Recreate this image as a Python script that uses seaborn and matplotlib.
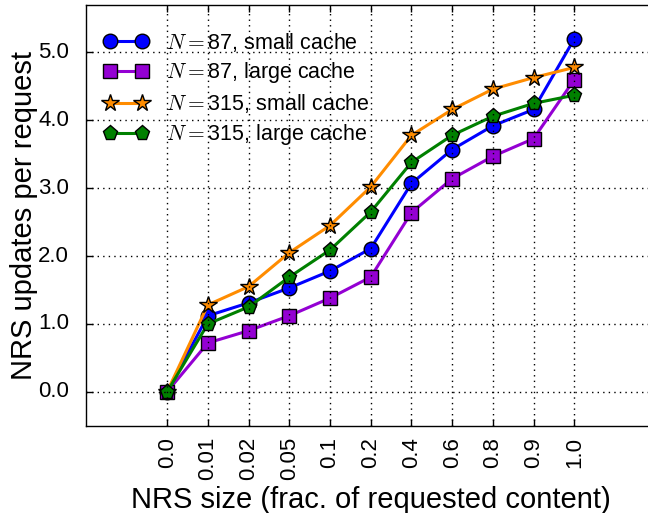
import matplotlib
matplotlib.use("Agg")
import matplotlib.pyplot as plt
import seaborn as sns
import pandas as pd

x_labels = ["0.0", "0.01", "0.02", "0.05", "0.1", "0.2", "0.4", "0.6", "0.8", "0.9", "1.0"]
n87_small = [0.0, 1.12, 1.31, 1.53, 1.78, 2.11, 3.07, 3.57, 3.92, 4.16, 5.20]
n87_large = [0.0, 0.72, 0.90, 1.12, 1.38, 1.69, 2.64, 3.14, 3.47, 3.73, 4.60]
n315_small = [0.0, 1.28, 1.55, 2.05, 2.45, 3.02, 3.78, 4.16, 4.46, 4.63, 4.78]
n315_large = [0.0, 1.00, 1.25, 1.69, 2.09, 2.65, 3.38, 3.78, 4.06, 4.25, 4.37]
series_labels = [r"$N=$87, small cache", r"$N=$87, large cache",
                 r"$N=$315, small cache", r"$N=$315, large cache"]

plt.style.use("classic")
plt.rcParams["font.family"] = ["Liberation Sans", "DejaVu Sans"]
plt.rcParams["mathtext.fontset"] = "cm"
plt.rcParams["text.color"] = "black"
plt.rcParams["axes.labelcolor"] = "black"
plt.rcParams["xtick.color"] = "black"
plt.rcParams["ytick.color"] = "black"

fig = plt.figure(figsize=(6.48, 5.13), dpi=100, facecolor="white")
ax = fig.add_axes([85.7 / 648, (513 - 425.7) / 513, 570.0 / 648, 420.7 / 513])
ax.set_facecolor("white")

styles = [
    ("#0000FF", "o", 10.5),
    ("#9400D3", "s", 10),
    ("#FF8C00", "*", 13),
    ("#008000", "p", 11),
]
xs = list(range(len(x_labels)))
for vals, lab, (c, m, ms) in zip([n87_small, n87_large, n315_small, n315_large], series_labels, styles):
    df = pd.DataFrame({"x": xs, "y": vals})
    sns.lineplot(data=df, x="x", y="y", ax=ax, color=c, marker=m, markersize=ms,
                 markeredgecolor="black", markeredgewidth=1.0, linewidth=2.2,
                 label=lab, legend=False)

ax.set_xlim(-2, 12)
ax.set_ylim(-0.5, 5.7)
ax.set_xticks(xs)
ax.set_xticklabels(x_labels, rotation=90, fontsize=16)
ax.set_yticks([0, 1, 2, 3, 4, 5])
ax.set_yticklabels(["0.0", "1.0", "2.0", "3.0", "4.0", "5.0"], fontsize=16)
ax.grid(True, color="black", linestyle=":", linewidth=1.0)
ax.tick_params(direction="in", length=5, width=1, top=True, right=True)
ax.tick_params(axis="y", pad=12)
ax.tick_params(axis="x", pad=8)
ax.set_xlabel("NRS size (frac. of requested content)", fontsize=21, labelpad=4)
ax.set_ylabel("NRS updates per request", fontsize=21, labelpad=0)
for s in ax.spines.values():
    s.set_color("black")
    s.set_linewidth(1.0)

handles, labels = ax.get_legend_handles_labels()
ax.legend(handles, labels, loc="upper left", numpoints=2, frameon=False,
          fontsize=15.5, handlelength=2.1, handletextpad=0.8,
          borderaxespad=0.3, labelspacing=0.32,
          bbox_to_anchor=(0.005, 0.975))

fig.savefig("out.png", dpi=100, facecolor="white")
